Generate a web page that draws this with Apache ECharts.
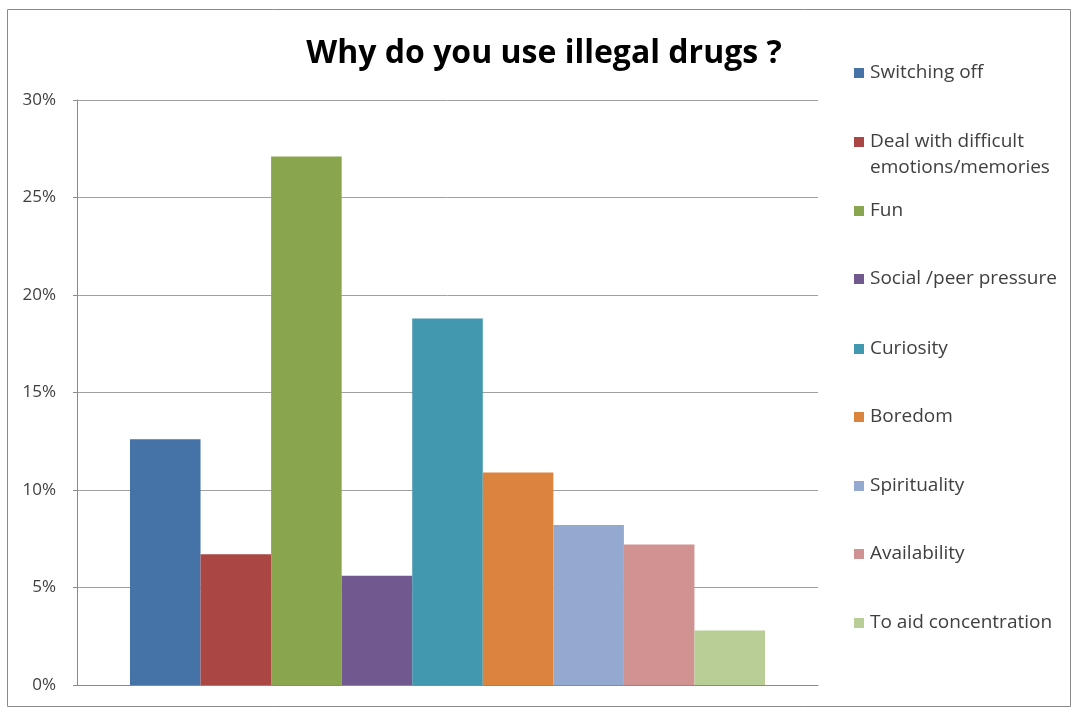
<!DOCTYPE html>
<html>
<head>
<meta charset="utf-8">
<script src="https://cdn.jsdelivr.net/npm/echarts@6/dist/echarts.min.js"></script>
<style>
  html, body { margin: 0; padding: 0; background: #fff; }
  #chart { width: 1074px; height: 709px; }
</style>
</head>
<body>
<div id="chart"></div>
<script>
const title = 'Why do you use illegal drugs ?';
const categories = ['Reasons'];
const seriesNames = [
  'Switching off',
  'Deal with difficult\nemotions/memories',
  'Fun',
  'Social /peer pressure',
  'Curiosity',
  'Boredom',
  'Spirituality',
  'Availability',
  'To aid concentration'
];
const seriesValues = [12.6, 6.7, 27.1, 5.6, 18.8, 10.9, 8.2, 7.2, 2.8];
const seriesColors = ['#4572A7', '#AA4643', '#89A54E', '#71588F', '#4198AF', '#DB843D', '#93A9CF', '#D19392', '#B9CD96'];
const yTicks = [0, 5, 10, 15, 20, 25, 30];

const legendCenters = [73, 142, 211, 279, 349, 417, 486, 554, 623];

const chart = echarts.init(document.getElementById('chart'), null, { renderer: 'canvas' });

const font = '"Open Sans", "Liberation Sans", sans-serif';
const LH = 26;

const legends = seriesNames.map((n, i) => {
  const multi = n.indexOf('\n') >= 0;
  return {
    data: [n],
    left: 854,
    top: legendCenters[i] - (multi ? LH * 1.5 : LH / 2),
    padding: 0,
    itemWidth: 12,
    itemHeight: 10,
    icon: 'path://M0,0L10,0L10,10L0,10Z',
    symbolKeepAspect: true,
    selectedMode: false,
    formatter: multi ? '\n{name}' : '{name}',
    textStyle: {
      fontFamily: font,
      fontSize: 19,
      color: '#404040',
      lineHeight: LH
    },
    itemStyle: { borderWidth: 0 }
  };
});

const option = {
  animation: false,
  backgroundColor: '#fff',
  title: {
    text: title,
    left: 539,
    textAlign: 'center',
    top: 33,
    textStyle: { fontFamily: font, fontSize: 32, fontWeight: 'bold', color: '#000' }
  },
  legend: legends,
  graphic: [{
    type: 'rect',
    shape: { x: 7.5, y: 9.5, width: 1063, height: 697 },
    style: { fill: 'none', stroke: '#8a8a8a', lineWidth: 1 },
    silent: true
  }],
  grid: { left: 77, right: 256, top: 100, bottom: 24, containLabel: false },
  xAxis: {
    type: 'category',
    data: categories,
    axisLabel: { show: false },
    axisTick: { show: false },
    axisLine: { show: true, lineStyle: { color: '#8a8a8a', width: 1 } }
  },
  yAxis: {
    type: 'value',
    min: 0,
    max: 30,
    interval: 5,
    axisLine: { show: true, lineStyle: { color: '#8a8a8a', width: 1 } },
    axisTick: { show: true, length: 4, lineStyle: { color: '#8a8a8a' } },
    splitLine: { show: true, lineStyle: { color: '#a0a0a0', width: 1 } },
    axisLabel: {
      formatter: v => yTicks.includes(v) ? v + '%' : '',
      fontFamily: font,
      fontSize: 17,
      color: '#404040',
      margin: 21
    }
  },
  series: seriesNames.map((n, i) => ({
    name: n,
    type: 'bar',
    data: [seriesValues[i]],
    barGap: '0%',
    barCategoryGap: '14.3%',
    itemStyle: { color: seriesColors[i] }
  }))
};

chart.setOption(option);
</script>
</body>
</html>
